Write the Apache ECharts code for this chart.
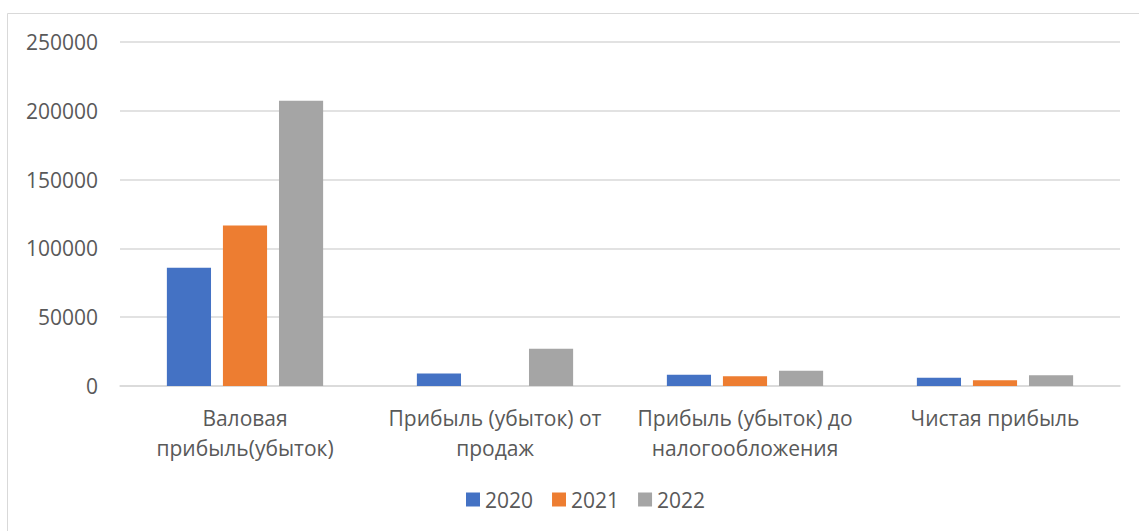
<!DOCTYPE html>
<html>
<head>
<meta charset="utf-8">
<script src="https://cdn.jsdelivr.net/npm/echarts@6/dist/echarts.min.js"></script>
<style>
  html, body { margin: 0; padding: 0; background: #fff; }
  #chart { width: 1139px; height: 531px; }
</style>
</head>
<body>
<div id="chart"></div>
<script>
const categories = [
  'Валовая\nприбыль(убыток)',
  'Прибыль (убыток) от\nпродаж',
  'Прибыль (убыток) до\nналогообложения',
  'Чистая прибыль'
];
const years = ['2020', '2021', '2022'];
const values2020 = [86000, 9100, 8150, 5950];
const values2021 = [116700, null, 7100, 4200];
const values2022 = [207300, 27000, 11000, 7850];
const colors = ['#4472C4', '#ED7D31', '#A5A5A5'];

const font = '"Open Sans", "Noto Sans", sans-serif';
const chart = echarts.init(document.getElementById('chart'), null, { renderer: 'svg' });

chart.setOption({
  animation: false,
  color: colors,
  textStyle: { fontFamily: font },
  graphic: [{
    type: 'rect',
    shape: { x: 7.5, y: 13.5, width: 1200, height: 600 },
    style: { fill: 'none', stroke: '#d9d9d9', lineWidth: 1 },
    silent: true
  }],
  grid: { left: 120, right: 19, top: 42, bottom: 145 },
  legend: {
    bottom: 16,
    left: 461,
    itemWidth: 14,
    itemHeight: 14,
    itemGap: 19,
    icon: 'rect',
    textStyle: { color: '#595959', fontSize: 21, fontFamily: font }
  },
  xAxis: {
    type: 'category',
    data: categories,
    axisTick: { show: false },
    axisLine: { lineStyle: { color: '#d9d9d9', width: 1.5 } },
    axisLabel: {
      color: '#595959',
      fontSize: 21,
      lineHeight: 30,
      margin: 17,
      interval: 0,
      fontFamily: font
    }
  },
  yAxis: {
    type: 'value',
    min: 0,
    max: 250000,
    interval: 50000,
    axisLine: { show: false },
    axisTick: { show: false },
    splitLine: { lineStyle: { color: '#d9d9d9', width: 1.5 } },
    axisLabel: {
      color: '#595959',
      fontSize: 21,
      margin: 22,
      fontFamily: font,
      formatter: (v) => String(v)
    }
  },
  series: [
    { name: years[0], type: 'bar', data: values2020, barGap: '27%', barCategoryGap: '37.5%' },
    { name: years[1], type: 'bar', data: values2021 },
    { name: years[2], type: 'bar', data: values2022 }
  ]
});
</script>
</body>
</html>
